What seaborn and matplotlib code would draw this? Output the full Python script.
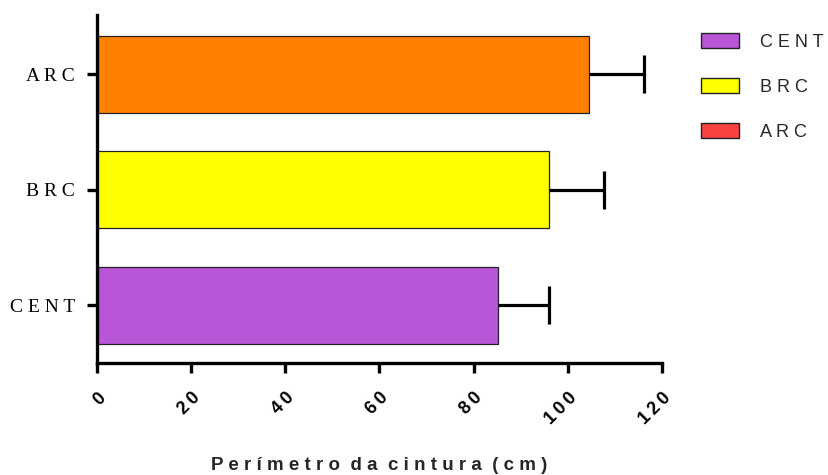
import matplotlib
matplotlib.use("Agg")
import matplotlib.pyplot as plt
from matplotlib.patches import Patch
import seaborn as sns
import pandas as pd

# Waist circumference by group (mean and standard deviation, cm)
groups = ["ARC", "BRC", "CENT"]
means = [104.4, 95.9, 85.2]
sds = [11.8, 11.8, 10.9]
bar_colors = ["#FF8000", "#FFFF00", "#B856D7"]

legend_labels = ["CENT", "BRC", "ARC"]
legend_colors = ["#B856D7", "#FFFF00", "#F94343"]

x_ticks = [0, 20, 40, 60, 80, 100, 120]
x_label = "Perímetro da cintura (cm)"


def spaced(s, gap=" "):
    return (gap * 2).join(gap.join(w) for w in s.split(" "))


sns.set_theme(style="ticks")
plt.rcParams["font.family"] = ["Liberation Sans", "DejaVu Sans"]

df = pd.DataFrame({"grupo": groups, "valor": means})

fig = plt.figure(figsize=(8.29, 4.75), dpi=100)
ax = fig.add_axes([97 / 829, 1 - 363 / 475, (662 - 97) / 829, (363 - 15) / 475])

sns.barplot(data=df, x="valor", y="grupo", order=groups, hue="grupo",
            palette=dict(zip(groups, bar_colors)), orient="h", width=0.667,
            saturation=1, edgecolor="#222222", linewidth=0.9, legend=False,
            ax=ax)

# One-sided (upper) error bars: hide the cap at the bar end
eb = ax.errorbar(means, range(len(groups)), xerr=[[0] * len(groups), sds],
                 fmt="none", ecolor="black", elinewidth=2.3, capsize=13.7,
                 capthick=2.3)
eb[1][0].set_visible(False)

ax.set_xlim(0, 120)
ax.set_ylim(2.5, -0.515)
ax.set_xticks(x_ticks)
ax.set_xticklabels([spaced(str(t), "\u2009") for t in x_ticks], rotation=45,
                   ha="right", rotation_mode="anchor", fontsize=13,
                   fontweight="bold")
ax.set_yticks(range(len(groups)))
ax.set_yticklabels([spaced(g) for g in groups],
                   family=["Liberation Serif", "DejaVu Serif"], fontsize=14)
ax.set_xlabel(spaced(x_label), fontsize=13.5, fontweight="bold", labelpad=21)
ax.set_ylabel("")

for side in ("top", "right"):
    ax.spines[side].set_visible(False)
for side in ("left", "bottom"):
    ax.spines[side].set_linewidth(2.4)
    ax.spines[side].set_color("black")
ax.tick_params(axis="both", width=2.4, length=7, color="black", labelcolor="black")
ax.tick_params(axis="x", pad=12)
ax.tick_params(axis="y", pad=9)

handles = [Patch(facecolor=c, edgecolor="#222222", linewidth=1.0) for c in legend_colors]
leg = fig.legend(handles, [spaced(l) for l in legend_labels],
                 loc="upper left", bbox_to_anchor=(685 / 829, 1 - 17 / 475),
                 frameon=False, fontsize=13, handlelength=2.1, handleheight=0.9,
                 labelspacing=1.5, handletextpad=1.15)

fig.savefig("out.png", dpi=100, facecolor="white")
